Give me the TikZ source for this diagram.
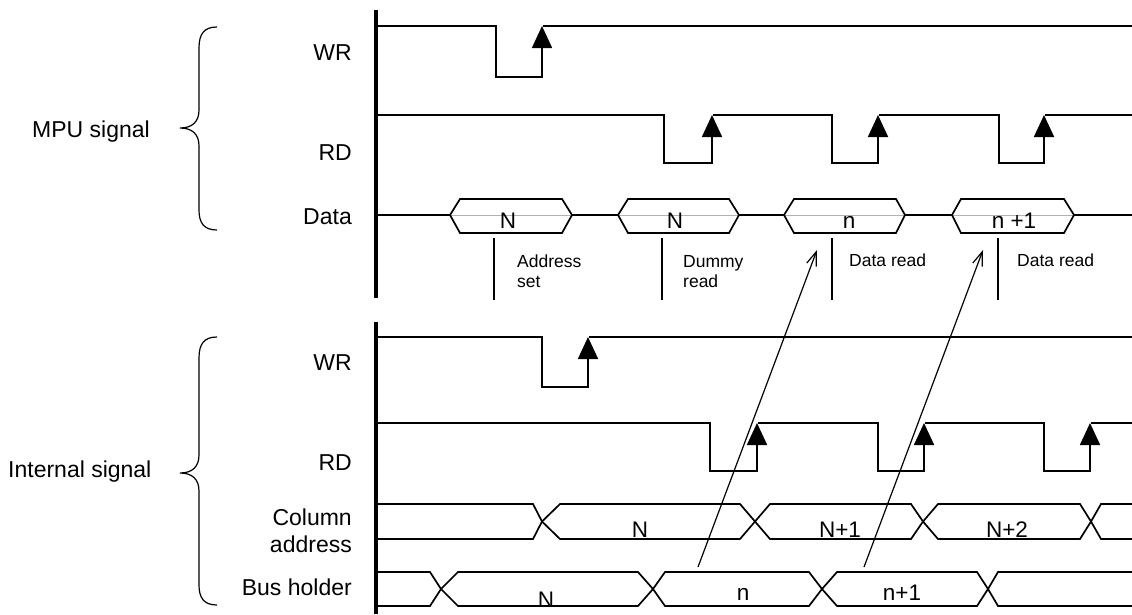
\documentclass[tikz,border=0pt]{standalone}
\usepackage{fontspec}
\setmainfont{Liberation Sans}
\usetikzlibrary{arrows.meta}
\begin{document}
\begin{tikzpicture}[x=1pt,y=-1pt,
  sig/.style={line width=1.7pt, line join=miter},
  bar/.style={line width=4.2pt},
  tri/.style={-{Triangle[length=22pt,width=20pt]}},
  lbl/.style={font=\fontsize{23}{27}\selectfont, inner sep=0pt},
  ann/.style={font=\fontsize{17.5}{21}\selectfont, inner sep=0pt},
  val/.style={font=\fontsize{22.5}{27}\selectfont, inner sep=0pt},
  markline/.style={line width=1.4pt},
  ptr/.style={line width=1.2pt, -{Straight Barb[length=14pt,width=10pt]}},
  brace/.style={line width=1.2pt},
  midgray/.style={draw=black!30, line width=0.6pt}
]
\useasboundingbox (0,0) rectangle (1132,614);

% vertical bars
\draw[bar] (376,10) -- (376,298);
\draw[bar] (376,322) -- (376,614);

% ---------- MPU WR
\draw[sig,tri] (376,26) -- (496,26) -- (496,77) -- (542,77) -- (542,26);
\draw[sig] (543,26) -- (1132,26);

% ---------- MPU RD
\draw[sig,tri] (376,115) -- (664,115) -- (664,163) -- (712,163) -- (712,115);
\draw[sig,tri] (713,115) -- (832,115) -- (832,163) -- (878,163) -- (878,115);
\draw[sig,tri] (879,115) -- (999,115) -- (999,163) -- (1044,163) -- (1044,115);
\draw[sig] (1045,115) -- (1132,115);

% ---------- Data
\newcommand\dhexa[4]{%
  \draw[midgray] (#1,215) -- (#4,215);
  \draw[sig] (#1,215) -- (#2,199) -- (#3,199) -- (#4,215) -- (#3,233) -- (#2,233) -- cycle;}
\dhexa{450}{460}{562}{572}
\dhexa{618}{628}{729}{739}
\dhexa{784}{794}{896}{905}
\dhexa{952}{961}{1064}{1074}
\draw[sig] (376,215) -- (450,215);
\draw[sig] (572,215) -- (618,215);
\draw[sig] (739,215) -- (784,215);
\draw[sig] (905,215) -- (952,215);
\draw[sig] (1074,215) -- (1132,215);
\node[val, anchor=base] (dN1) at (508,228) {N};
\node[val, anchor=base] (dN2) at (675,228) {N};
\node[val, anchor=base] (dn3) at (849,228) {n};
\node[val, anchor=base] (dn4) at (1014,228) {n +1};

% markers
\draw[markline] (494,238) -- (494,300);
\draw[markline] (662,238) -- (662,300);
\draw[markline] (832,238) -- (832,300);
\draw[markline] (998,238) -- (998,300);
\node[ann, anchor=base west] (a1) at (517,267) {Address};
\node[ann, anchor=base west] (a1b) at (517,287) {set};
\node[ann, anchor=base west] (a2) at (683,267) {Dummy};
\node[ann, anchor=base west] (a2b) at (683,287) {read};
\node[ann, anchor=base west] (a3) at (849,266) {Data read};
\node[ann, anchor=base west] (a4) at (1017,266) {Data read};

% ---------- Internal WR
\draw[sig,tri] (376,337) -- (542,337) -- (542,387) -- (588,387) -- (588,337);
\draw[sig] (589,337) -- (1132,337);

% ---------- Internal RD
\draw[sig,tri] (376,423) -- (710,423) -- (710,471) -- (757,471) -- (757,423);
\draw[sig,tri] (758,423) -- (878,423) -- (878,471) -- (924,471) -- (924,423);
\draw[sig,tri] (925,423) -- (1044,423) -- (1044,471) -- (1090,471) -- (1090,423);
\draw[sig] (1091,423) -- (1132,423);

% ---------- Column address
\draw[sig] (376,504) -- (533,504) -- (542,521.5) -- (560,539) -- (740,539) -- (755,521.5) -- (770,504)
  -- (911,504) -- (923,521.5) -- (938,539) -- (1080,539) -- (1091,521.5) -- (1101,504) -- (1132,504);
\draw[sig] (376,539) -- (533,539) -- (542,521.5) -- (560,504) -- (740,504) -- (755,521.5) -- (770,539)
  -- (911,539) -- (923,521.5) -- (938,504) -- (1080,504) -- (1091,521.5) -- (1101,539) -- (1132,539);
\node[val, anchor=base] (cN) at (640,537) {N};
\node[val, anchor=base] (cN1) at (840,537) {N+1};
\node[val, anchor=base] (cN2) at (1007,537) {N+2};

% ---------- Bus holder
\draw[sig] (376,572) -- (430,572) -- (441,589) -- (458,606) -- (638,606) -- (653,589) -- (665,572)
  -- (809,572) -- (822,589) -- (837,606) -- (977,606) -- (988,589) -- (998,572) -- (1132,572);
\draw[sig] (376,606) -- (430,606) -- (441,589) -- (458,572) -- (638,572) -- (653,589) -- (665,606)
  -- (809,606) -- (822,589) -- (837,572) -- (977,572) -- (988,589) -- (998,606) -- (1132,606);
\node[val, anchor=base] (bN) at (546,607) {N};
\node[val, anchor=base] (bn) at (743,600) {n};
\node[val, anchor=base] (bn1) at (902,600) {n+1};

% ---------- pointer arrows
\coordinate (p1s) at (698,567);
\coordinate (p1e) at (817,250);
\coordinate (p2s) at (864,567);
\coordinate (p2e) at (983,250);
\draw[ptr] (p1s) -- (p1e);
\draw[ptr] (p2s) -- (p2e);

% ---------- labels
\node[lbl, anchor=base east] (lwr1) at (352,60) {WR};
\node[lbl, anchor=base east] (lrd1) at (352,160) {RD};
\node[lbl, anchor=base east] (ldata) at (352,224) {Data};
\node[lbl, anchor=base west] (mpu) at (32,137) {MPU signal};
\node[lbl, anchor=base east] (lwr2) at (352,370) {WR};
\node[lbl, anchor=base east] (lrd2) at (352,470) {RD};
\node[lbl, anchor=base east] (lcol1) at (352,525) {Column};
\node[lbl, anchor=base east] (lcol2) at (352,552) {address};
\node[lbl, anchor=base east] (lbus) at (352,595) {Bus holder};
\node[lbl, anchor=base west] (intl) at (8,477) {Internal signal};

% ---------- braces
\draw[brace] (217,27) .. controls (204,27) and (199,34) .. (199,48) -- (199,110)
  .. controls (199,122) and (192,128) .. (180,128)
  .. controls (192,128) and (199,134) .. (199,146) -- (199,210)
  .. controls (199,223) and (204,230) .. (217,230);
\draw[brace] (217,337) .. controls (204,337) and (199,344) .. (199,358) -- (199,455)
  .. controls (199,467) and (192,473) .. (180,473)
  .. controls (192,473) and (199,479) .. (199,491) -- (199,585)
  .. controls (199,598) and (204,605) .. (217,605);
\end{tikzpicture}
\end{document}
